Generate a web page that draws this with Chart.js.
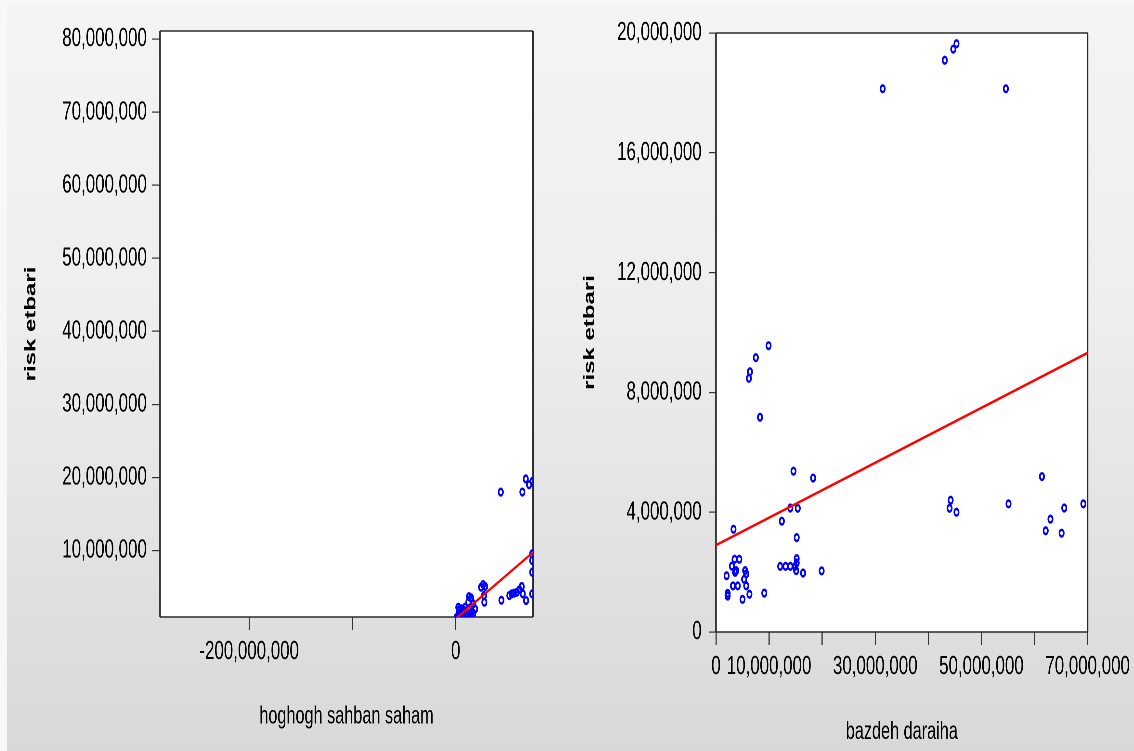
<!DOCTYPE html>
<html><head><meta charset="utf-8">
<script src="https://cdn.jsdelivr.net/npm/chart.js@4.4.1/dist/chart.umd.min.js"></script>
<style>
html,body{margin:0;padding:0;width:1134px;height:751px;overflow:hidden;background:#f8f8f8;}
#bg{position:absolute;left:7px;top:3px;width:1127px;height:748px;background:linear-gradient(to bottom,#f4f4f4 0%,#eeeeee 40%,#d8d8d8 100%);}
.wrap{position:absolute;top:0;width:872px;height:751px;transform:scaleX(0.65);transform-origin:0 0;}
</style></head><body>
<div id="bg"></div>
<div class="wrap" style="left:0"><canvas id="c1" width="872" height="751"></canvas></div>
<div class="wrap" style="left:567px"><canvas id="c2" width="872" height="751"></canvas></div>
<script>
// ---- text ----
const yTitle = 'risk etbari';
const leftXTitle = 'hoghogh sahban saham';
const rightXTitle = 'bazdeh daraiha';

// ---- left chart: hoghogh sahban saham vs risk etbari ----
const leftX = [43.6e6, 64.5e6, 67.8e6, 71.0e6, 74.5e6, 74.0e6, 74.0e6, 74.0e6, 74.0e6,
  26.5e6, 28.4e6, 24.5e6, 27.7e6, 27.4e6, 44.2e6, 51.9e6, 54.2e6, 56.4e6, 59.1e6, 61.6e6,
  63.9e6, 64.9e6, 68.1e6, 12.9e6, 14.8e6, 12.2e6, 17.0e6, 18.7e6, 2.5e6, 5.8e6, 9.0e6,
  4.2e6, 7.4e6, 10.6e6, 13.8e6, 17.0e6, 2.5e6, 5.8e6, 1.0e6, 3.5e6, 8.0e6, 15.5e6, 6.5e6,
  11.5e6, 3.0e6];
const leftY = [17.99e6, 18.0e6, 19.8e6, 19.0e6, 19.5e6, 9.55e6, 8.63e6, 7.03e6, 4.07e6,
  5.34e6, 5.07e6, 4.97e6, 2.92e6, 3.84e6, 3.2e6, 3.84e6, 4.07e6, 4.15e6, 4.29e6, 4.62e6,
  5.07e6, 4.07e6, 3.15e6, 3.70e6, 3.52e6, 2.92e6, 2.70e6, 2.00e6, 2.23e6, 2.01e6, 2.23e6,
  1.55e6, 1.33e6, 1.41e6, 1.33e6, 1.41e6, 1.10e6, 0.86e6, 0.86e6, 1.9e6, 1.8e6, 1.6e6, 1.1e6,
  1.0e6, 1.4e6];
const leftFitX = [0, 75e6];
const leftFitY = [0.66e6, 9.76e6];
const leftXTicks = [-200e6, -100e6, 0];
const leftXLabelled = [-200e6, 0];
const leftYTicks = [10e6, 20e6, 30e6, 40e6, 50e6, 60e6, 70e6, 80e6];

// ---- right chart: bazdeh daraiha vs risk etbari ----
const rightX = [9.9e6, 7.5e6, 6.4e6, 6.2e6, 8.3e6, 14.6e6, 18.3e6, 14.0e6, 15.4e6, 12.4e6,
  3.3e6, 15.2e6, 15.2e6, 15.2e6, 12.1e6, 13.1e6, 14.0e6, 14.9e6, 15.1e6, 16.4e6, 19.9e6,
  3.5e6, 4.4e6, 3.0e6, 3.8e6, 2.0e6, 5.5e6, 5.7e6, 5.3e6, 3.2e6, 4.1e6, 5.7e6, 2.2e6, 2.2e6,
  6.3e6, 9.1e6, 5.0e6, 31.4e6, 54.6e6, 43.1e6, 44.7e6, 45.3e6, 61.4e6, 44.2e6, 44.0e6,
  45.3e6, 55.1e6, 65.6e6, 69.2e6, 63.0e6, 62.1e6, 65.1e6, 3.6e6];
const rightY = [9.56e6, 9.16e6, 8.69e6, 8.47e6, 7.17e6, 5.37e6, 5.14e6, 4.14e6, 4.13e6, 3.70e6,
  3.43e6, 3.15e6, 2.45e6, 2.31e6, 2.19e6, 2.19e6, 2.19e6, 2.19e6, 2.05e6, 1.97e6, 2.04e6,
  2.43e6, 2.43e6, 2.20e6, 2.05e6, 1.88e6, 2.05e6, 1.94e6, 1.76e6, 1.54e6, 1.54e6, 1.54e6,
  1.29e6, 1.20e6, 1.26e6, 1.30e6, 1.09e6, 18.14e6, 18.14e6, 19.09e6, 19.46e6, 19.64e6,
  5.19e6, 4.40e6, 4.13e6, 4.00e6, 4.28e6, 4.14e6, 4.28e6, 3.77e6, 3.38e6, 3.30e6, 1.99e6];
const rightFitX = [0, 70e6];
const rightFitY = [2.9e6, 9.32e6];
const rightXTicks = [0, 10e6, 20e6, 30e6, 40e6, 50e6, 60e6, 70e6];
const rightXLabelled = [0, 10e6, 30e6, 50e6, 70e6];
const rightYTicks = [0, 4e6, 8e6, 12e6, 16e6, 20e6];

// ---- styling ----
const FONT = '"Liberation Sans", Arial, sans-serif';
const fmt = v => Number(v).toLocaleString('en-US');
const pts = (xs, ys) => xs.map((x, i) => ({x, y: ys[i]}));

const framePlugin = {
  id: 'frame',
  beforeDraw(chart) {
    const {ctx, chartArea: a} = chart;
    ctx.save(); ctx.fillStyle = '#ffffff';
    ctx.fillRect(a.left, a.top, a.right - a.left, a.bottom - a.top);
    ctx.restore();
  },
  beforeDatasetsDraw(chart) {
    const {ctx, chartArea: a} = chart;
    ctx.save(); ctx.strokeStyle = '#2a2a2a';
    ctx.lineWidth = 1.5;
    ctx.beginPath();
    ctx.moveTo(a.left, a.top); ctx.lineTo(a.right, a.top);
    ctx.moveTo(a.left, a.bottom); ctx.lineTo(a.right, a.bottom);
    ctx.stroke();
    ctx.lineWidth = 2.3;
    ctx.beginPath();
    ctx.moveTo(a.left, a.top); ctx.lineTo(a.left, a.bottom);
    ctx.moveTo(a.right, a.top); ctx.lineTo(a.right, a.bottom);
    ctx.stroke();
    ctx.restore();
  }
};

function makeChart(id, cfg) {
  return new Chart(document.getElementById(id), {
    data: {
      datasets: [
        {type: 'line', data: pts(cfg.fitX, cfg.fitY), borderColor: '#ff0000', borderWidth: 2.6,
         pointRadius: 0, fill: false, order: 0, tension: 0},
        {type: 'scatter', data: pts(cfg.x, cfg.y), borderColor: '#0000ff', backgroundColor: 'rgba(0,0,0,0)',
         pointRadius: 3.3, pointBorderWidth: 2.6, order: 1}
      ]
    },
    options: {
      responsive: false, animation: false, devicePixelRatio: 2,
      layout: {padding: Object.assign({}, cfg.pad)},
      plugins: {legend: {display: false}, tooltip: {enabled: false}},
      scales: {
        x: {
          type: 'linear', position: 'bottom', min: cfg.xMin, max: cfg.xMax,
          afterBuildTicks: s => { s.ticks = cfg.xTicks.map(v => ({value: v})); },
          afterFit: s => { s.height = cfg.xH; },
          border: {display: false},
          grid: {drawOnChartArea: false, drawTicks: true, tickLength: 13, color: '#333', lineWidth: 1.8},
          ticks: {autoSkip: false, maxRotation: 0, padding: 6, color: '#000',
                  font: {family: FONT, size: 26},
                  callback: v => cfg.xLabelled.includes(v) ? fmt(v) : ''},
          title: {display: true, text: cfg.xTitle, color: '#000', padding: {top: 0, bottom: cfg.xTitlePad},
                  font: {family: FONT, size: 25}}
        },
        y: {
          type: 'linear', position: 'left', min: cfg.yMin, max: cfg.yMax,
          afterBuildTicks: s => { s.ticks = cfg.yTicks.map(v => ({value: v})); },
          afterFit: s => { s.width = cfg.yW; },
          border: {display: false},
          grid: {drawOnChartArea: false, drawTicks: true, tickLength: cfg.yTickLen, color: '#333', lineWidth: 1.2},
          ticks: {autoSkip: false, padding: cfg.yTickPad, color: '#000',
                  font: {family: FONT, size: 26}, callback: v => fmt(v)},
          title: {display: true, text: yTitle, color: '#000', padding: {top: cfg.yTitlePad, bottom: 0},
                  font: {family: FONT, size: 24, weight: 'bold'}}
        }
      }
    },
    plugins: [framePlugin]
  });
}

function fitTo(chart, t) {
  for (let i = 0; i < 5; i++) {
    const a = chart.chartArea, p = chart.options.layout.padding;
    const dl = t.left - a.left, dt = t.top - a.top, dr = a.right - t.right, db = a.bottom - t.bottom;
    if (Math.abs(dl) + Math.abs(dt) + Math.abs(dr) + Math.abs(db) < 0.3) break;
    p.left += dl; p.top += dt; p.right += dr; p.bottom += db;
    chart.update('none');
  }
}

const c1 = makeChart('c1', {
  x: leftX, y: leftY, fitX: leftFitX, fitY: leftFitY,
  xMin: -286.3e6, xMax: 74.8e6, yMin: 0.9e6, yMax: 81.1e6,
  xTicks: leftXTicks, xLabelled: leftXLabelled, yTicks: leftYTicks,
  xTitle: leftXTitle, xH: 120, xTitlePad: 5.5,
  yW: 236, yTickLen: 12.3, yTickPad: 8, yTitlePad: 23.3,
  pad: {left: 10.2, top: 31, right: 52, bottom: 14}
});
fitTo(c1, {left: 246.2, top: 31, right: 820, bottom: 617});

const c2 = makeChart('c2', {
  x: rightX, y: rightY, fitX: rightFitX, fitY: rightFitY,
  xMin: 0, xMax: 70e6, yMin: 0, yMax: 20e6,
  xTicks: rightXTicks, xLabelled: rightXLabelled, yTicks: rightYTicks,
  xTitle: rightXTitle, xH: 118, xTitlePad: 3,
  yW: 224, yTickLen: 11, yTickPad: 11, yTitlePad: 15.8,
  pad: {left: 5.2, top: 33, right: 70.5, bottom: 1}
});
fitTo(c2, {left: 229.2, top: 33, right: 801.5, bottom: 632});
</script>
</body></html>
